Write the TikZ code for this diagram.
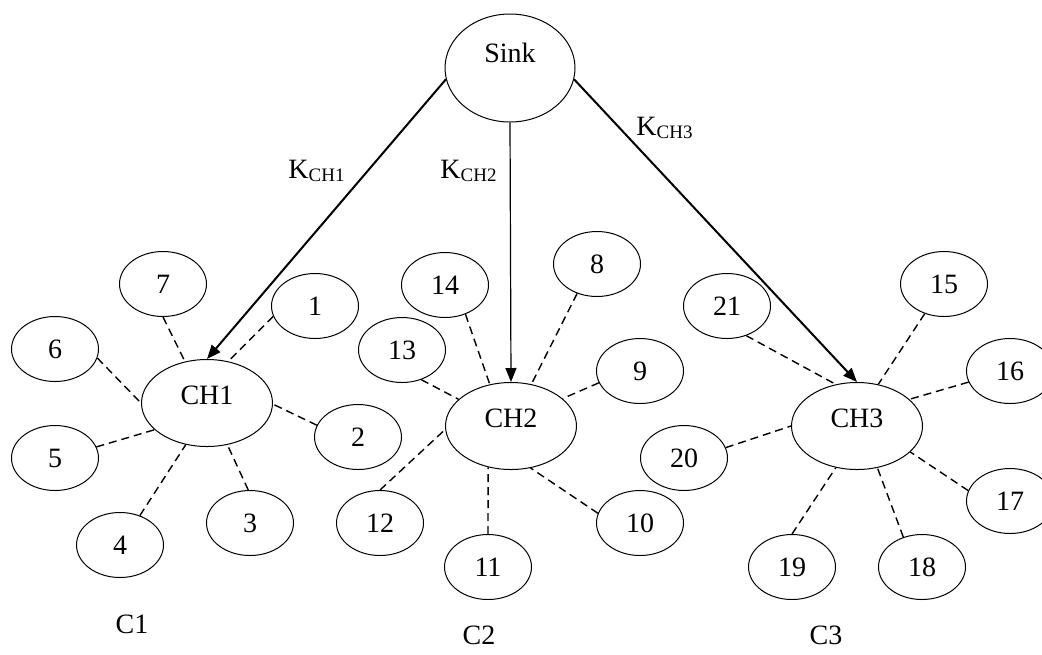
\documentclass[tikz,border=0pt]{standalone}
\usepackage{fontspec}
\setmainfont{Liberation Serif}
\usetikzlibrary{
shapes.geometric,
arrows.meta,
}
\tikzset{
every node/.style={align=center, font=\fontsize{14}{16}\selectfont},
member/.style={ellipse, draw, line width=0.5pt, inner sep=0pt, minimum width=43.5pt, minimum height=32.5pt},
head/.style={ellipse, draw, line width=0.5pt, inner sep=0pt, minimum width=65.5pt, minimum height=43.5pt, text height=9.3pt, text depth=7.5pt},
station/.style={ellipse, draw, line width=0.5pt, inner sep=0pt, minimum width=65pt, minimum height=54pt, text height=9.3pt, text depth=15pt},
link/.style={dash pattern=on 4pt off 2.5pt, line width=0.7pt},
key/.style={anchor=base west, inner sep=0pt},
group/.style={anchor=base, inner sep=0pt},
>={Triangle[length=7pt, width=5.5pt]},
}
\newcommand{\keyof}[1]{K\raisebox{-1.5pt}{\fontsize{9.5}{10}\selectfont #1}}

\begin{document}
\begin{tikzpicture}[x=0.5pt, y=-0.5pt]
    \useasboundingbox (0,0) rectangle (1042,654);

    \node [station] (sink) at (510,68) {Sink};
    \node [head] (ch1) at (207,403) {CH1};
    \node [head] (ch2) at (511,426) {CH2};
    \node [head] (ch3) at (857,426) {CH3};

    \foreach \n/\x/\y in {1/315/306, 2/358/437, 3/250/523, 4/120/545, 5/55/458, 6/55/349, 7/163/284,
        8/597/264, 9/640/371, 10/640/523, 11/488/567, 12/380/523, 13/402/350, 14/445/285,
        15/944/284, 16/1010/371, 17/1010/501, 18/922/567, 19/792/567, 20/684/458, 21/727/306}
        \node [member] (n\n) at (\x,\y) {\n};

    % cluster members
    \foreach \n/\a/\b in {7/270/118, 1/194/63, 6/348/180, 2/164/359, 5/15/207, 4/56/243, 3/93/296}
        \draw [link] (n\n.\a) -- (ch1.\b);
    \foreach \n/\a/\b in {14/305/117, 8/236/64, 13/303/153, 9/196/28, 12/90/183, 11/90/241, 10/167/295}
        \draw [link] (n\n.\a) -- (ch2.\b);
    \foreach \n/\a/\b in {21/303/117, 15/237/63, 16/195/27, 20/14/180, 17/166/334, 19/90/243, 18/122/296}
        \draw [link] (n\n.\a) -- (ch3.\b);

    \draw [->, line width=1pt] (sink.190) -- (ch1.north);
    \draw [->, line width=0.6pt] (sink.south) -- (ch2.north);
    \draw [->, line width=1pt] (sink.350) -- (ch3.north);

    \node [key] (k1) at (288,178) {\keyof{CH1}};
    \node [key] (k2) at (440,178) {\keyof{CH2}};
    \node [key] (k3) at (636,135) {\keyof{CH3}};

    \node [group] (c1) at (132,633) {C1};
    \node [group] (c2) at (479,644) {C2};
    \node [group] (c3) at (826,644) {C3};
\end{tikzpicture}
\end{document}
